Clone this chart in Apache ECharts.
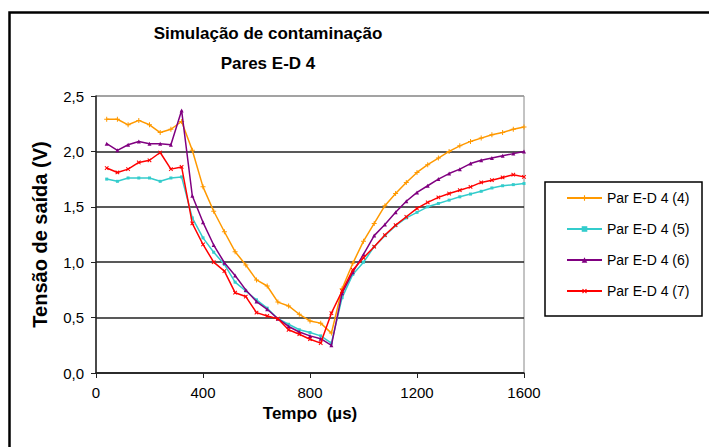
<!DOCTYPE html>
<html><head><meta charset="utf-8">
<script src="https://cdn.jsdelivr.net/npm/echarts@6/dist/echarts.min.js"></script>
<style>html,body{margin:0;padding:0;background:#fff}#c{width:709px;height:447px}</style>
</head><body><div id="c"></div>
<script>
var times = [40,80,120,160,200,240,280,320,360,400,440,480,520,560,600,640,680,720,760,800,840,880,920,960,1000,1040,1080,1120,1160,1200,1240,1280,1320,1360,1400,1440,1480,1520,1560,1600];
var par4 = [2.29,2.29,2.24,2.28,2.24,2.17,2.20,2.27,2.01,1.68,1.46,1.275,1.095,0.975,0.84,0.785,0.64,0.605,0.53,0.47,0.45,0.36,0.76,0.99,1.19,1.35,1.51,1.62,1.72,1.81,1.88,1.94,2.0,2.05,2.09,2.12,2.15,2.17,2.20,2.22];
var par5 = [1.75,1.73,1.76,1.76,1.76,1.73,1.76,1.77,1.40,1.22,1.09,0.98,0.82,0.74,0.66,0.585,0.49,0.44,0.39,0.365,0.335,0.27,0.68,0.89,1.0,1.14,1.24,1.33,1.40,1.45,1.50,1.53,1.56,1.59,1.615,1.64,1.67,1.69,1.70,1.71];
var par6 = [2.07,2.01,2.06,2.09,2.07,2.07,2.06,2.37,1.60,1.36,1.155,0.995,0.88,0.75,0.645,0.575,0.49,0.42,0.37,0.335,0.31,0.25,0.72,0.91,1.07,1.24,1.34,1.45,1.55,1.63,1.69,1.75,1.80,1.84,1.89,1.92,1.94,1.96,1.98,2.0];
var par7 = [1.85,1.81,1.84,1.90,1.92,1.99,1.84,1.86,1.35,1.16,1.0,0.92,0.725,0.69,0.545,0.515,0.49,0.39,0.35,0.305,0.27,0.54,0.74,0.93,1.04,1.14,1.245,1.335,1.41,1.485,1.54,1.585,1.62,1.65,1.68,1.72,1.74,1.765,1.79,1.77];
var seriesNames = ['Par E-D 4 (4)','Par E-D 4 (5)','Par E-D 4 (6)','Par E-D 4 (7)'];
var titleText = 'Simulação de contaminação';
var subTitleText = 'Pares E-D 4';
var xName = 'Tempo  (µs)';
var yName = 'Tensão de saída (V)';

var FONT = 'Liberation Sans, Arial, sans-serif';
var plus = 'path://M2,0H3V2H5V3H3V5H2V3H0V2H2Z';
function pairs(a){ return times.map(function(t,i){ return [t, a[i]]; }); }
var styles = [
  {color:'#FF9900', symbol: plus, size: 5, rot: 0},
  {color:'#33CCCC', symbol: 'rect', size: 3, rot: 0},
  {color:'#800080', symbol: 'triangle', size: 4, rot: 0},
  {color:'#FF0000', symbol: plus, size: 5, rot: 45}
];
var datasets = [par4, par5, par6, par7];
var series = datasets.map(function(d, i){
  var s = styles[i];
  return {
    name: seriesNames[i], type: 'line', data: pairs(d),
    symbol: s.symbol, symbolSize: s.size, symbolRotate: s.rot, showSymbol: true,
    lineStyle: {color: s.color, width: 1.5},
    itemStyle: {color: s.color},
    emphasis: {disabled: true}, z: 3 + i
  };
});

var chart = echarts.init(document.getElementById('c'), null, {renderer: 'svg'});
chart.setOption({
  animation: false,
  backgroundColor: '#fff',
  title: [
    {text: titleText, left: 263, top: 20, textAlign: 'center',
     textStyle: {fontFamily: FONT, fontSize: 17, fontWeight: 'bold', color: '#000'}},
    {text: subTitleText, left: 263, top: 50, textAlign: 'center',
     textStyle: {fontFamily: FONT, fontSize: 17, fontWeight: 'bold', color: '#000'}}
  ],
  grid: {left: 96, right: 185, top: 96, bottom: 74, show: true, borderColor: '#888', borderWidth: 1},
  legend: {
    orient: 'vertical', left: 566, top: 191, itemWidth: 35, itemHeight: 7, itemGap: 17,
    padding: 0,
    textStyle: {fontFamily: FONT, fontSize: 14, color: '#000'},
    data: seriesNames
  },
  xAxis: {
    type: 'value', min: 0, max: 1600, interval: 400,
    name: xName, nameLocation: 'middle', nameGap: 28,
    nameTextStyle: {fontFamily: FONT, fontSize: 17, fontWeight: 'bold', color: '#000'},
    axisLine: {show: true, lineStyle: {color: '#222', width: 1.5}},
    axisTick: {show: true, length: 5, lineStyle: {color: '#222'}},
    axisLabel: {fontFamily: FONT, fontSize: 15, color: '#000', margin: 12,
      formatter: function(v){ return String(v); }},
    splitLine: {show: false}
  },
  yAxis: {
    type: 'value', min: 0, max: 2.5, interval: 0.5,
    name: yName, nameLocation: 'middle', nameGap: 46,
    nameTextStyle: {fontFamily: FONT, fontSize: 20, fontWeight: 'bold', color: '#000'},
    axisLine: {show: true, lineStyle: {color: '#222', width: 1.5}},
    axisTick: {show: true, length: 5, lineStyle: {color: '#222'}},
    axisLabel: {fontFamily: FONT, fontSize: 15, color: '#000', margin: 12,
      formatter: function(v){ return v.toFixed(1).replace('.', ','); }},
    splitLine: {show: true, lineStyle: {color: ['#222','#222','#222','#222','#222','#999'], width: 1.6}}
  },
  graphic: [
    {type: 'rect', left: 7, top: 10, shape: {x: 0, y: 0, width: 800, height: 500},
     style: {fill: 'none', stroke: '#000', lineWidth: 2.5}, silent: true, z: 100},
    {type: 'rect', shape: {x: 545, y: 182, width: 157, height: 134},
     style: {fill: 'none', stroke: '#000', lineWidth: 1.5}, silent: true, z: 100}
  ],
  series: series
});
</script>
</body></html>
